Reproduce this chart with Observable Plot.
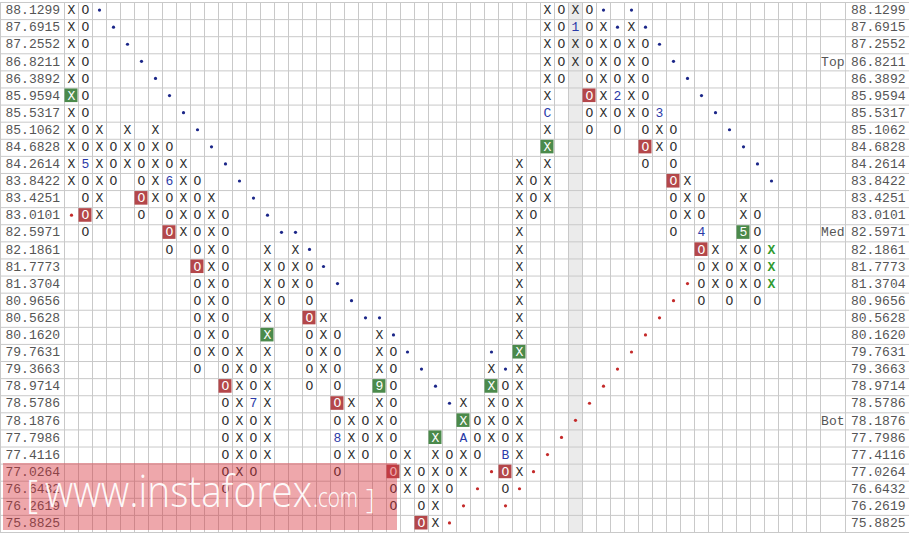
<!DOCTYPE html>
<html>
<head>
<meta charset="utf-8">
<script src="https://cdn.jsdelivr.net/npm/d3@7"></script>
<script src="https://cdn.jsdelivr.net/npm/@observablehq/plot@0.6"></script>
<style>
  html, body { margin: 0; padding: 0; background: #fff; }
  #wrap { position: relative; width: 909px; height: 533px; overflow: hidden; }
  #wrap svg { display: block; }
  #wm { position: absolute; left: 0; top: 0; pointer-events: none; }
</style>
</head>
<body>
<div id="wrap"></div>
<script>
// ---- price levels (rows, top to bottom) ----
const prices = ["88.1299","87.6915","87.2552","86.8211","86.3892","85.9594","85.5317","85.1062","84.6828","84.2614","83.8422","83.4251","83.0101","82.5971","82.1861","81.7773","81.3704","80.9656","80.5628","80.1620","79.7631","79.3663","78.9714","78.5786","78.1876","77.7986","77.4116","77.0264","76.6432","76.2619","75.8825"];

// ---- point & figure columns: type, top row, bottom row ----
const boxTypes  = "XOXOXOXOXOXOXOXOXOXOXOXOXOXOXOXOXOXOXOXOXOXOXOXOXOX";
const boxTop    = [0,0,7,8,7,8,7,8,9,10,11,12,20,21,14,15,14,15,18,19,23,24,19,20,26,27,25,26,23,24,21,22,9,10,0,0,0,0,1,2,1,2,6,7,10,11,14,15,11,12,14];
const boxBottom = [10,13,12,10,9,12,11,14,13,21,20,28,27,27,26,17,16,22,21,27,26,26,25,29,28,30,30,28,27,26,25,28,27,12,11,4,3,7,6,7,6,9,8,13,12,17,16,17,16,17,16];

// month markers replacing a box: [column, row, label]
const monthMarks = [[1,9,"5"],[7,10,"6"],[13,23,"7"],[19,25,"8"],[22,22,"9"],[28,25,"A"],[31,26,"B"],[34,6,"C"],[36,1,"1"],[39,5,"2"],[42,6,"3"],[45,13,"4"],[48,13,"5"]];
// signal boxes: [column, row]
const buyBoxes  = [[0,5],[14,19],[22,22],[26,25],[28,24],[30,22],[32,20],[34,8],[48,13]];
const sellBoxes = [[1,12],[5,11],[7,13],[9,15],[11,22],[17,18],[19,23],[23,27],[25,30],[31,27],[37,5],[41,8],[43,10],[45,14]];
// trend lines: [column, row]
const resistanceDots = [[2,0],[3,1],[4,2],[5,3],[6,4],[7,5],[8,6],[9,7],[10,8],[11,9],[12,10],[13,11],[14,12],[15,13],[16,13],[17,14],[18,15],[19,16],[20,17],[21,18],[22,18],[23,19],[24,20],[25,21],[26,22],[27,23],[30,20],[31,21],[38,0],[39,1],[40,0],[41,1],[42,2],[43,3],[44,4],[45,5],[46,6],[47,7],[48,8],[49,9],[50,10]];
const supportDots = [[0,12],[27,30],[28,29],[29,28],[30,27],[31,29],[32,28],[33,27],[34,26],[35,25],[36,24],[37,23],[38,22],[39,21],[40,20],[41,19],[42,18],[43,17],[44,16]];
const liveColumn = 50;
const shadedColumn = 36;
const tags = [{label: "Top", price: "86.8211"}, {label: "Med", price: "82.5971"}, {label: "Bot", price: "78.1876"}];

// ---- layout (in column units; one column = 14px) ----
const nCols = 54, leftW = 64 / 14, tagW = 25 / 14, rightW = 64 / 14;
const MONO = "'Courier New', 'Liberation Mono', monospace";
const GRID = "#c9c9c9";

// ---- build cells ----
const key = (c, r) => c + ":" + r;
const markMap = new Map(monthMarks.map(([c, r, t]) => [key(c, r), t]));
const buySet = new Set(buyBoxes.map(([c, r]) => key(c, r)));
const sellSet = new Set(sellBoxes.map(([c, r]) => key(c, r)));
const cells = [];
for (let c = 0; c < boxTypes.length; c++) {
  for (let r = boxTop[c]; r <= boxBottom[c]; r++) {
    const k = key(c, r);
    const mark = markMap.get(k);
    let kind = "plain";
    if (buySet.has(k) || sellSet.has(k)) kind = "boxed";
    else if (mark) kind = "month";
    else if (c === liveColumn) kind = "live";
    cells.push({c, r, t: mark ?? boxTypes[c], kind});
  }
}

const cx = d => d.c + 0.5, cy = d => d.r + 0.5;
const textOpts = {x: cx, y: cy, text: "t", fontFamily: MONO, fontSize: 13, dy: -1};

const chart = Plot.plot({
  width: 909,
  height: 533,
  marginLeft: 0, marginRight: 0, marginTop: 2, marginBottom: 1,
  x: {domain: [-leftW, nCols + tagW + rightW], axis: null},
  y: {domain: [0, prices.length], reverse: true, axis: null},
  style: {background: "#fff", overflow: "visible"},
  marks: [
    Plot.rect([shadedColumn], {x1: d => d, x2: d => d + 1, y1: 0, y2: prices.length, fill: "#ebebeb"}),
    Plot.ruleY(d3.range(0, prices.length + 1), {stroke: GRID}),
    Plot.ruleX([-leftW, ...d3.range(0, nCols + 1), nCols + tagW], {stroke: GRID}),
    Plot.rect(buyBoxes, {x1: d => d[0], x2: d => d[0] + 1, y1: d => d[1], y2: d => d[1] + 1, fill: "#4b8a4b", insetTop: 1, insetBottom: 2.5, insetLeft: 0.5, insetRight: 0.5}),
    Plot.rect(sellBoxes, {x1: d => d[0], x2: d => d[0] + 1, y1: d => d[1], y2: d => d[1] + 1, fill: "#b4474a", insetTop: 1, insetBottom: 2.5, insetLeft: 0.5, insetRight: 0.5}),
    Plot.text(cells.filter(d => d.kind === "plain"), {...textOpts, fill: "#2e2e2e"}),
    Plot.text(cells.filter(d => d.kind === "month"), {...textOpts, fill: "#2a3aa8"}),
    Plot.text(cells.filter(d => d.kind === "boxed"), {...textOpts, fill: "#ffffff"}),
    Plot.text(cells.filter(d => d.kind === "live"), {...textOpts, fill: "#2f9a2f", fontWeight: "bold"}),
    Plot.dot(resistanceDots, {x: d => d[0] + 0.5, y: d => d[1] + 0.5, r: 1.6, fill: "#1b2688", stroke: null, dy: -1}),
    Plot.dot(supportDots, {x: d => d[0] + 0.5, y: d => d[1] + 0.5, r: 1.6, fill: "#c42a2a", stroke: null, dy: -1}),
    Plot.text(prices, {frameAnchor: "left", y: (d, i) => i + 0.5, text: d => d, textAnchor: "start", dx: 5, dy: -1, fontFamily: MONO, fontSize: 13, fill: "#555"}),
    Plot.text(prices, {frameAnchor: "right", y: (d, i) => i + 0.5, text: d => d, textAnchor: "end", dx: -4, dy: -1, fontFamily: MONO, fontSize: 13, fill: "#555"}),
    Plot.text(tags, {x: nCols + tagW, y: d => prices.indexOf(d.price) + 0.5, text: "label", textAnchor: "end", dx: -1, dy: -1, fontFamily: MONO, fontSize: 13, fill: "#555"})
  ]
});

const wrap = document.getElementById("wrap");
wrap.appendChild(chart);

// ---- watermark overlay ----
const ns = "http://www.w3.org/2000/svg";
const wm = document.createElementNS(ns, "svg");
wm.setAttribute("id", "wm");
wm.setAttribute("width", 909);
wm.setAttribute("height", 533);
wm.innerHTML = `
  <rect x="3" y="463" width="394" height="67" fill="rgb(214,45,55)" fill-opacity="0.42"></rect>
  <g font-family="'Open Sans', Lato, sans-serif" font-weight="300" fill="#fff" fill-opacity="0.95">
    <text x="26" y="508" font-size="38">[</text>
    <text x="45" y="507" font-size="44" textLength="267" lengthAdjust="spacingAndGlyphs">www.instaforex</text>
    <text x="313" y="507" font-size="28" textLength="45" lengthAdjust="spacingAndGlyphs">.com</text>
    <text x="366" y="509" font-size="27">]</text>
  </g>`;
wrap.appendChild(wm);
</script>
</body>
</html>
